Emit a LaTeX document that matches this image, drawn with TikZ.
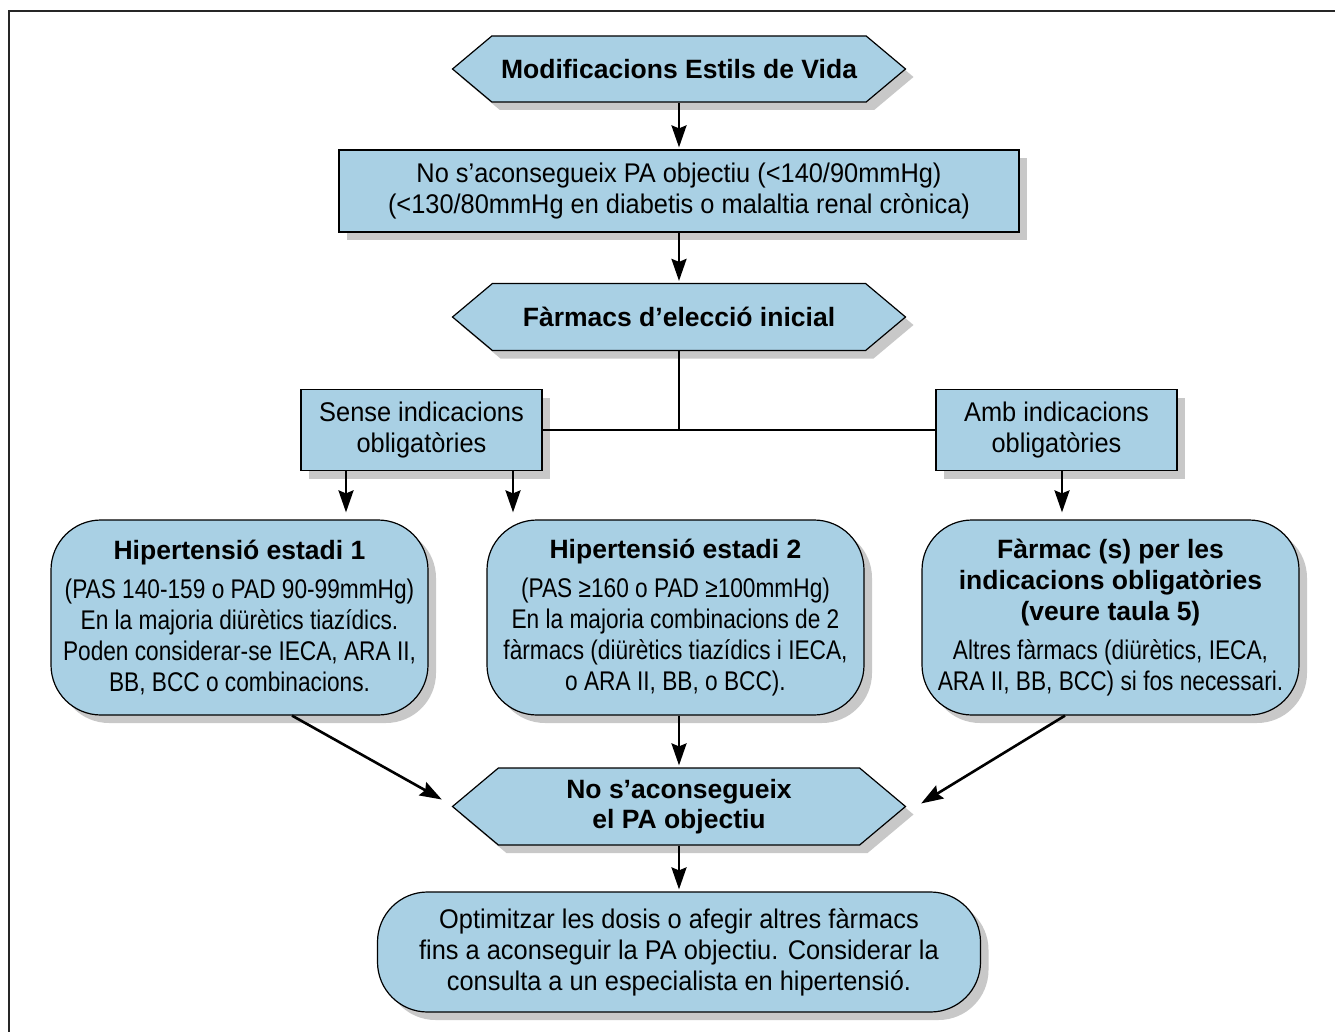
\documentclass[tikz,border=0pt]{standalone}
\usepackage{fontspec}
\setmainfont{Liberation Sans}
\newfontfamily\condfont[FakeStretch=0.84]{Liberation Sans}
\newfontfamily\semicondfont[FakeStretch=0.94]{Liberation Sans}
\usetikzlibrary{arrows.meta,shapes.symbols,shadows}
\definecolor{boxblue}{RGB}{169,208,228}
\definecolor{shadowgray}{RGB}{200,200,200}
\newcommand\hd[1]{{\normalfont\bfseries\fontsize{26.5}{31}\selectfont #1}}
\tikzset{
  shad/.style={drop shadow={shadow xshift=8pt,shadow yshift=-8pt,fill=shadowgray,opacity=1}},
  hexa/.style={shape=signal,signal to=west and east,signal pointer angle=80,draw,fill=boxblue,shad,
    minimum width=453pt,inner sep=0pt,align=center,font=\bfseries\fontsize{26.5}{30}\selectfont},
  sqbox/.style={rectangle,draw,fill=boxblue,shad,align=center,inner sep=0pt,font=\semicondfont\fontsize{27}{31}\selectfont},
  rndbox/.style={sqbox,rounded corners=50pt,minimum width=377pt,minimum height=195pt,font=\condfont\fontsize{27}{31}\selectfont},
  arr/.style={-{Stealth[length=22pt,width=15pt,inset=3pt]},line width=2.6pt,shorten >=2pt},
  lnk/.style={line width=2.6pt}
}

\begin{document}
\begin{tikzpicture}[x=1pt,y=-1pt,line width=1.2pt]
  \useasboundingbox (0,0) rectangle (1335,1032);
  \draw[line width=2pt,black!85] (9,1032) -- (9,11) -- (1335,11);

  \node[hexa,minimum height=66pt] (modif) at (679,69) {Modificacions Estils de Vida};
  \node[sqbox,minimum width=680pt,minimum height=82pt] (obj) at (679,191)
    {No s’aconsegueix PA objectiu (<140/90mmHg)\\(<130/80mmHg en diabetis o malaltia renal crònica)};
  \node[hexa,minimum height=67pt] (inicial) at (679,317) {Fàrmacs d’elecció inicial};

  \node[sqbox,minimum width=241pt,minimum height=81pt] (sense) at (421.5,430) {Sense indicacions\\obligatòries};
  \node[sqbox,minimum width=241pt,minimum height=81pt] (amb) at (1056.5,430) {Amb indicacions\\obligatòries};

  \node[rndbox] (est1) at (239.5,617.5)
    {\hd{Hipertensió estadi 1}\\[8pt](PAS 140-159 o PAD 90-99mmHg)\\En la majoria diürètics tiazídics.\\Poden considerar-se IECA, ARA II,\\BB, BCC o combinacions.};
  \node[rndbox] (est2) at (675.5,617.5)
    {\hd{Hipertensió estadi 2}\\[8pt](PAS ≥160 o PAD ≥100mmHg)\\En la majoria combinacions de 2\\fàrmacs (diürètics tiazídics i IECA,\\o ARA II, BB, o BCC).};
  \node[rndbox] (farm) at (1110.5,617.5)
    {\hd{Fàrmac (s) per les}\\\hd{indicacions obligatòries}\\\hd{(veure taula 5)}\\[8pt]Altres fàrmacs (diürètics, IECA,\\ARA II, BB, BCC) si fos necessari.};

  \node[hexa,minimum height=77pt] (noobj) at (679,806.5) {No s’aconsegueix\\el PA objectiu};
  \node[rndbox,minimum width=603pt,minimum height=120pt,font=\semicondfont\fontsize{27}{31}\selectfont] (optim) at (679,952)
    {Optimitzar les dosis o afegir altres fàrmacs\\fins a aconseguir la PA objectiu. Considerar la\\consulta a un especialista en hipertensió.};

  % connectors
  \draw[arr] (modif.south) -- (obj.north);
  \draw[arr] (obj.south) -- (inicial.north);
  \draw[lnk] (inicial.south) -- (inicial.south |- sense.east);
  \draw[lnk] (sense.east) -- (amb.west);
  \draw[arr,shorten >=7pt] ([xshift=-75.5pt]sense.south) -- ([xshift=-75.5pt]sense.south |- est1.north);
  \draw[arr,shorten >=7pt] ([xshift=91.5pt]sense.south) -- ([xshift=91.5pt]sense.south |- est2.north);
  \draw[arr,shorten >=7pt] ([xshift=5.5pt]amb.south) -- ([xshift=5.5pt]amb.south |- farm.north);
  \draw[arr] ([xshift=52.5pt]est1.south) -- ([xshift=-8pt,yshift=6pt]noobj.west);
  \draw[arr] (noobj.north |- est2.south) -- (noobj.north);
  \draw[arr] ([xshift=-45.5pt]farm.south) -- ([xshift=13pt,yshift=2pt]noobj.east);
  \draw[arr] (noobj.south) -- (optim.north);
\end{tikzpicture}
\end{document}
